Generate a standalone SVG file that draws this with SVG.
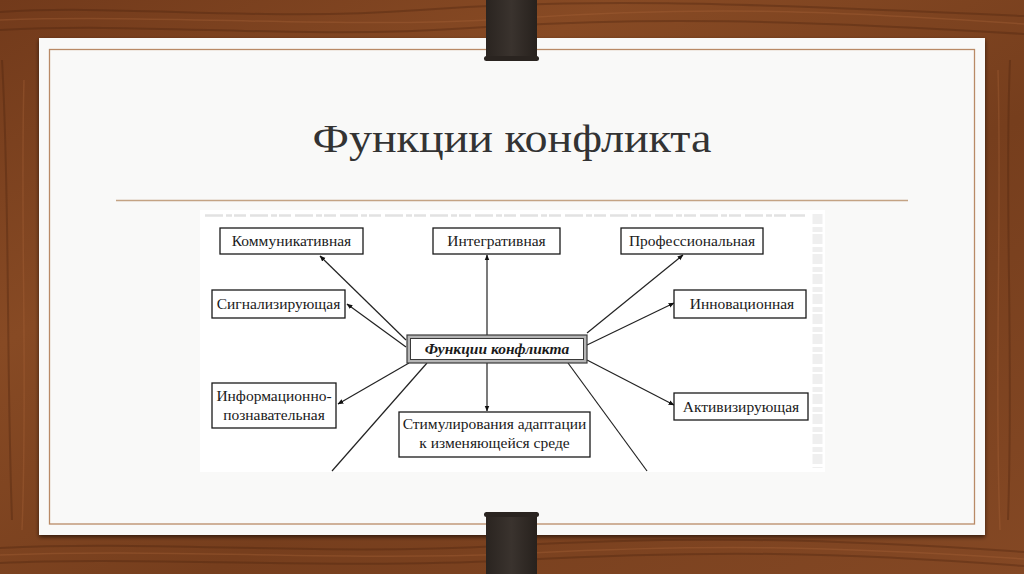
<svg xmlns="http://www.w3.org/2000/svg" width="1024" height="574" viewBox="0 0 1024 574">
<defs>
<linearGradient id="wood" x1="0" y1="0" x2="1" y2="1">
<stop offset="0" stop-color="#723a1b"/>
<stop offset="0.3" stop-color="#874a24"/>
<stop offset="0.6" stop-color="#763e1d"/>
<stop offset="1" stop-color="#844824"/>
</linearGradient>
<linearGradient id="clip" x1="0" y1="0" x2="1" y2="0">
<stop offset="0" stop-color="#2a2420"/>
<stop offset="0.5" stop-color="#3a332e"/>
<stop offset="1" stop-color="#27211d"/>
</linearGradient>
<filter id="shadow" x="-5%" y="-5%" width="110%" height="115%">
<feGaussianBlur in="SourceAlpha" stdDeviation="2"/>
<feOffset dx="0" dy="2"/>
<feComponentTransfer><feFuncA type="linear" slope="0.6"/></feComponentTransfer>
<feMerge><feMergeNode/><feMergeNode in="SourceGraphic"/></feMerge>
</filter>
<marker id="arr" viewBox="0 0 10 10" refX="9" refY="5" markerWidth="6" markerHeight="6" orient="auto" markerUnits="userSpaceOnUse">
<path d="M0,1 L10,5 L0,9 z" fill="#111"/>
</marker>
</defs>
<style>
.box{fill:#fff;stroke:#1a1a1a;stroke-width:1.3}
.lbl{font-family:"Liberation Serif","Times New Roman",serif;font-size:15.5px;fill:#1a1a1a;text-anchor:middle}
.con{stroke:#222;stroke-width:1.2;fill:none}
.grain{stroke:#4a220e;stroke-width:2;fill:none;opacity:0.35}
.grainl{stroke:#a8653a;stroke-width:1.5;fill:none;opacity:0.35}
</style>

<g id="background">
<rect x="0" y="0" width="1024" height="574" fill="url(#wood)"/>
<path class="grain" d="M0,12 C120,4 260,22 420,10 S720,2 1024,16"/>
<path class="grain" d="M0,30 C150,22 300,40 470,28 S800,20 1024,34"/>
<path class="grainl" d="M0,20 C180,14 340,30 520,18 S820,10 1024,24"/>
<path class="grain" d="M0,548 C150,540 320,556 500,546 S820,538 1024,552"/>
<path class="grain" d="M0,563 C140,556 330,570 520,560 S840,552 1024,566"/>
<path class="grainl" d="M0,555 C170,548 350,562 530,553 S830,546 1024,559"/>
<path class="grain" d="M2,60 C10,200 6,350 12,520"/>
<path class="grain" d="M1010,60 C1004,200 1014,350 1008,520"/>
<path class="grainl" d="M24,80 C20,220 28,380 22,530"/>
<path class="grainl" d="M998,70 C1002,220 994,380 1000,530"/>
</g>

<g id="paper">
<rect x="39" y="38" width="946" height="497" fill="#f9f9f8" filter="url(#shadow)"/>
<rect x="49.5" y="49.5" width="925" height="474.5" fill="none" stroke="#b98a66" stroke-width="1.3"/>
</g>

<g id="clips">
<rect x="486" y="0" width="51" height="59" fill="url(#clip)"/>
<rect x="484" y="56" width="55" height="5" rx="2.5" fill="#2a2420"/>
<rect x="486" y="514" width="51" height="60" fill="url(#clip)"/>
<rect x="484" y="512" width="55" height="5" rx="2.5" fill="#2a2420"/>
</g>

<g id="title">
<text x="512" y="152" font-family="'Liberation Serif','Times New Roman',serif" font-size="40" fill="#333333" text-anchor="middle" textLength="399" lengthAdjust="spacingAndGlyphs">Функции конфликта</text>
<line x1="116" y1="200.5" x2="908" y2="200.5" stroke="#c4a384" stroke-width="1.5"/>
</g>

<g id="diagram-area">
<rect x="200" y="210" width="625" height="262" fill="#ffffff"/>
<line x1="205" y1="215.5" x2="805" y2="215.5" stroke="#e2e2e2" stroke-width="2.5" stroke-dasharray="18 3 6 2 12 4"/>
<line x1="817.5" y1="214" x2="817.5" y2="468" stroke="#efefef" stroke-width="10" stroke-dasharray="10 3 5 2"/>
</g>

<g id="connectors">
<line class="con" x1="487" y1="335" x2="487" y2="255" marker-end="url(#arr)"/>
<line class="con" x1="487" y1="363" x2="487" y2="411" marker-end="url(#arr)"/>
<line class="con" x1="406" y1="340" x2="320" y2="256" marker-end="url(#arr)"/>
<line class="con" x1="406" y1="347" x2="347" y2="304" marker-end="url(#arr)"/>
<line class="con" x1="409" y1="363" x2="338" y2="404" marker-end="url(#arr)"/>
<line class="con" x1="427" y1="363" x2="332" y2="471"/>
<line class="con" x1="587" y1="333" x2="683" y2="255" marker-end="url(#arr)"/>
<line class="con" x1="587" y1="345" x2="674" y2="303" marker-end="url(#arr)"/>
<line class="con" x1="587" y1="360" x2="674" y2="405" marker-end="url(#arr)"/>
<line class="con" x1="568" y1="363" x2="647" y2="471"/>
</g>

<g id="node-center">
<rect x="407" y="335" width="180" height="28" fill="#b5b5b5" stroke="#3a3a3a" stroke-width="1.2"/>
<rect x="410.5" y="338.5" width="173" height="21" fill="#fff" stroke="#3a3a3a" stroke-width="1"/>
<text class="lbl" x="497" y="354" font-weight="bold" font-style="italic">Функции конфликта</text>
</g>

<g id="node-kommunikativnaya">
<rect class="box" x="220" y="228" width="143" height="26"/>
<text class="lbl" x="291.5" y="246">Коммуникативная</text>
</g>

<g id="node-integrativnaya">
<rect class="box" x="433" y="228" width="127" height="26"/>
<text class="lbl" x="496.5" y="246">Интегративная</text>
</g>

<g id="node-professionalnaya">
<rect class="box" x="621" y="228" width="142" height="26"/>
<text class="lbl" x="692" y="246">Профессиональная</text>
</g>

<g id="node-signaliziruyushaya">
<rect class="box" x="212" y="290" width="133" height="28"/>
<text class="lbl" x="278.5" y="309">Сигнализирующая</text>
</g>

<g id="node-innovatsionnaya">
<rect class="box" x="674" y="290" width="132" height="28"/>
<text class="lbl" x="742" y="309">Инновационная</text>
</g>

<g id="node-informatsionno">
<rect class="box" x="212" y="383" width="124" height="45"/>
<text class="lbl" x="274" y="401">Информационно-</text>
<text class="lbl" x="274" y="420">познавательная</text>
</g>

<g id="node-stimulirovaniya">
<rect class="box" x="399" y="412" width="191" height="45"/>
<text class="lbl" x="494.5" y="429">Стимулирования адаптации</text>
<text class="lbl" x="494.5" y="448">к изменяющейся среде</text>
</g>

<g id="node-aktiviziruyushaya">
<rect class="box" x="674" y="393" width="134" height="27"/>
<text class="lbl" x="741" y="412">Активизирующая</text>
</g>
</svg>
